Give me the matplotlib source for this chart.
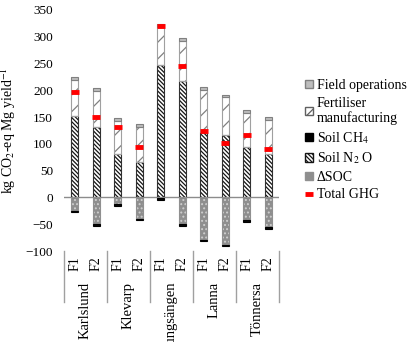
import numpy as np
import matplotlib.pyplot as plt
from matplotlib.patches import Patch
from matplotlib.lines import Line2D

plt.rcParams['font.family'] = ['Liberation Serif', 'DejaVu Serif']
plt.rcParams['mathtext.fontset'] = 'stix'
plt.rcParams['hatch.linewidth'] = 0.9

sites = ['Karlslund', 'Klevarp', 'Kungsängen', 'Lanna', 'Tönnersa']
treatments = ['F1', 'F2'] * 5

# kg CO2-eq per Mg yield
field_ops = np.array([6, 5, 5, 5, 6, 5, 5, 5, 5, 5])
fertiliser = np.array([66, 68, 62, 66, 70, 75, 78, 70, 63, 64])
soil_n2o = np.array([153, 131, 81, 66, 248, 218, 123, 117, 95, 81])
soil_ch4 = np.array([-3, -3, -3, -3, -3, -3, -3, -3, -3, -3])
delta_soc = np.array([-25, -50, -13, -40, -1, -50, -79, -88, -43, -56])
total_ghg = field_ops + fertiliser + soil_n2o + soil_ch4 + delta_soc

x = np.arange(len(treatments))
w = 0.34

fig = plt.figure(figsize=(4.16, 3.42), dpi=100)
ax = fig.add_axes([64 / 416, 1 - 251 / 342, 215 / 416, 241 / 342])

def seg(bottom, height, face, hatch, hcol, edge):
    ax.bar(x, height, w, bottom=bottom, color=face, hatch=hatch,
           edgecolor=hcol, linewidth=0, zorder=2)
    ax.bar(x, height, w, bottom=bottom, fill=False, edgecolor=edge,
           linewidth=0.8, zorder=3)

# positive stack
seg(0, soil_n2o, 'white', '\\\\\\\\\\\\\\\\', '#151515', '#303030')
seg(soil_n2o, fertiliser, 'white', '//', '#808080', '#a0a0a0')
seg(soil_n2o + fertiliser, field_ops, '#bdbdbd', None, '#bdbdbd', '#808080')
# negative stack
seg(0, delta_soc, '#8e8e8e', '....', '#cfcfcf', '#909090')
seg(delta_soc, soil_ch4, 'black', None, 'black', 'black')

ax.plot(x, total_ghg, ls='none', marker='_', ms=6, mew=3.5,
        color='#ff0000', zorder=4)

ax.axhline(0, color='#8c8c8c', lw=1, zorder=1)
ax.set_xlim(-0.5, 9.5)
ax.set_ylim(-100, 350)
ax.set_yticks(np.arange(-100, 351, 50))
for s in ax.spines.values():
    s.set_visible(False)
ax.tick_params(axis='y', length=0, pad=8, labelsize=9.5)
ax.set_xticks(x)
ax.set_xticklabels(treatments, rotation=90, fontsize=10)
ax.tick_params(axis='x', length=0, pad=4)
ax.set_ylabel('kg CO$_2$-eq Mg yield$^{-1}$', fontsize=10, labelpad=5)

# group separators and site names below the axis
trans = ax.get_xaxis_transform()
for b in np.arange(-0.5, 10, 2):
    ax.plot([b, b], [0, -51 / 241], color='#a0a0a0', lw=1,
            transform=trans, clip_on=False)
for i, name in enumerate(sites):
    ax.text(2 * i + 0.5, -31 / 241, name, rotation=90, ha='center',
            va='top', fontsize=10.5, transform=trans)

handles = [
    Patch(facecolor='#bdbdbd', edgecolor='#808080'),
    Patch(facecolor='white', edgecolor='#606060', hatch='///'),
    Patch(facecolor='black', edgecolor='black'),
    Patch(facecolor='white', edgecolor='#151515', hatch='\\\\\\\\\\\\\\\\'),
    Patch(facecolor='#8e8e8e', edgecolor='#909090', hatch='....'),
    Line2D([], [], ls='none', marker='_', ms=6, mew=3.5, color='#ff0000'),
]
labels = ['Field operations', 'Fertiliser\nmanufacturing', 'Soil CH$_4$',
          'Soil N$_2$ O', 'ΔSOC', 'Total GHG']
fig.legend(handles, labels, loc='upper left', bbox_to_anchor=(298 / 416, 1 - 72 / 342),
           frameon=False, fontsize=10, handlelength=0.55, handleheight=0.55,
           handletextpad=0.3, labelspacing=0.33, borderpad=0)

fig.savefig('out.png', dpi=100)
